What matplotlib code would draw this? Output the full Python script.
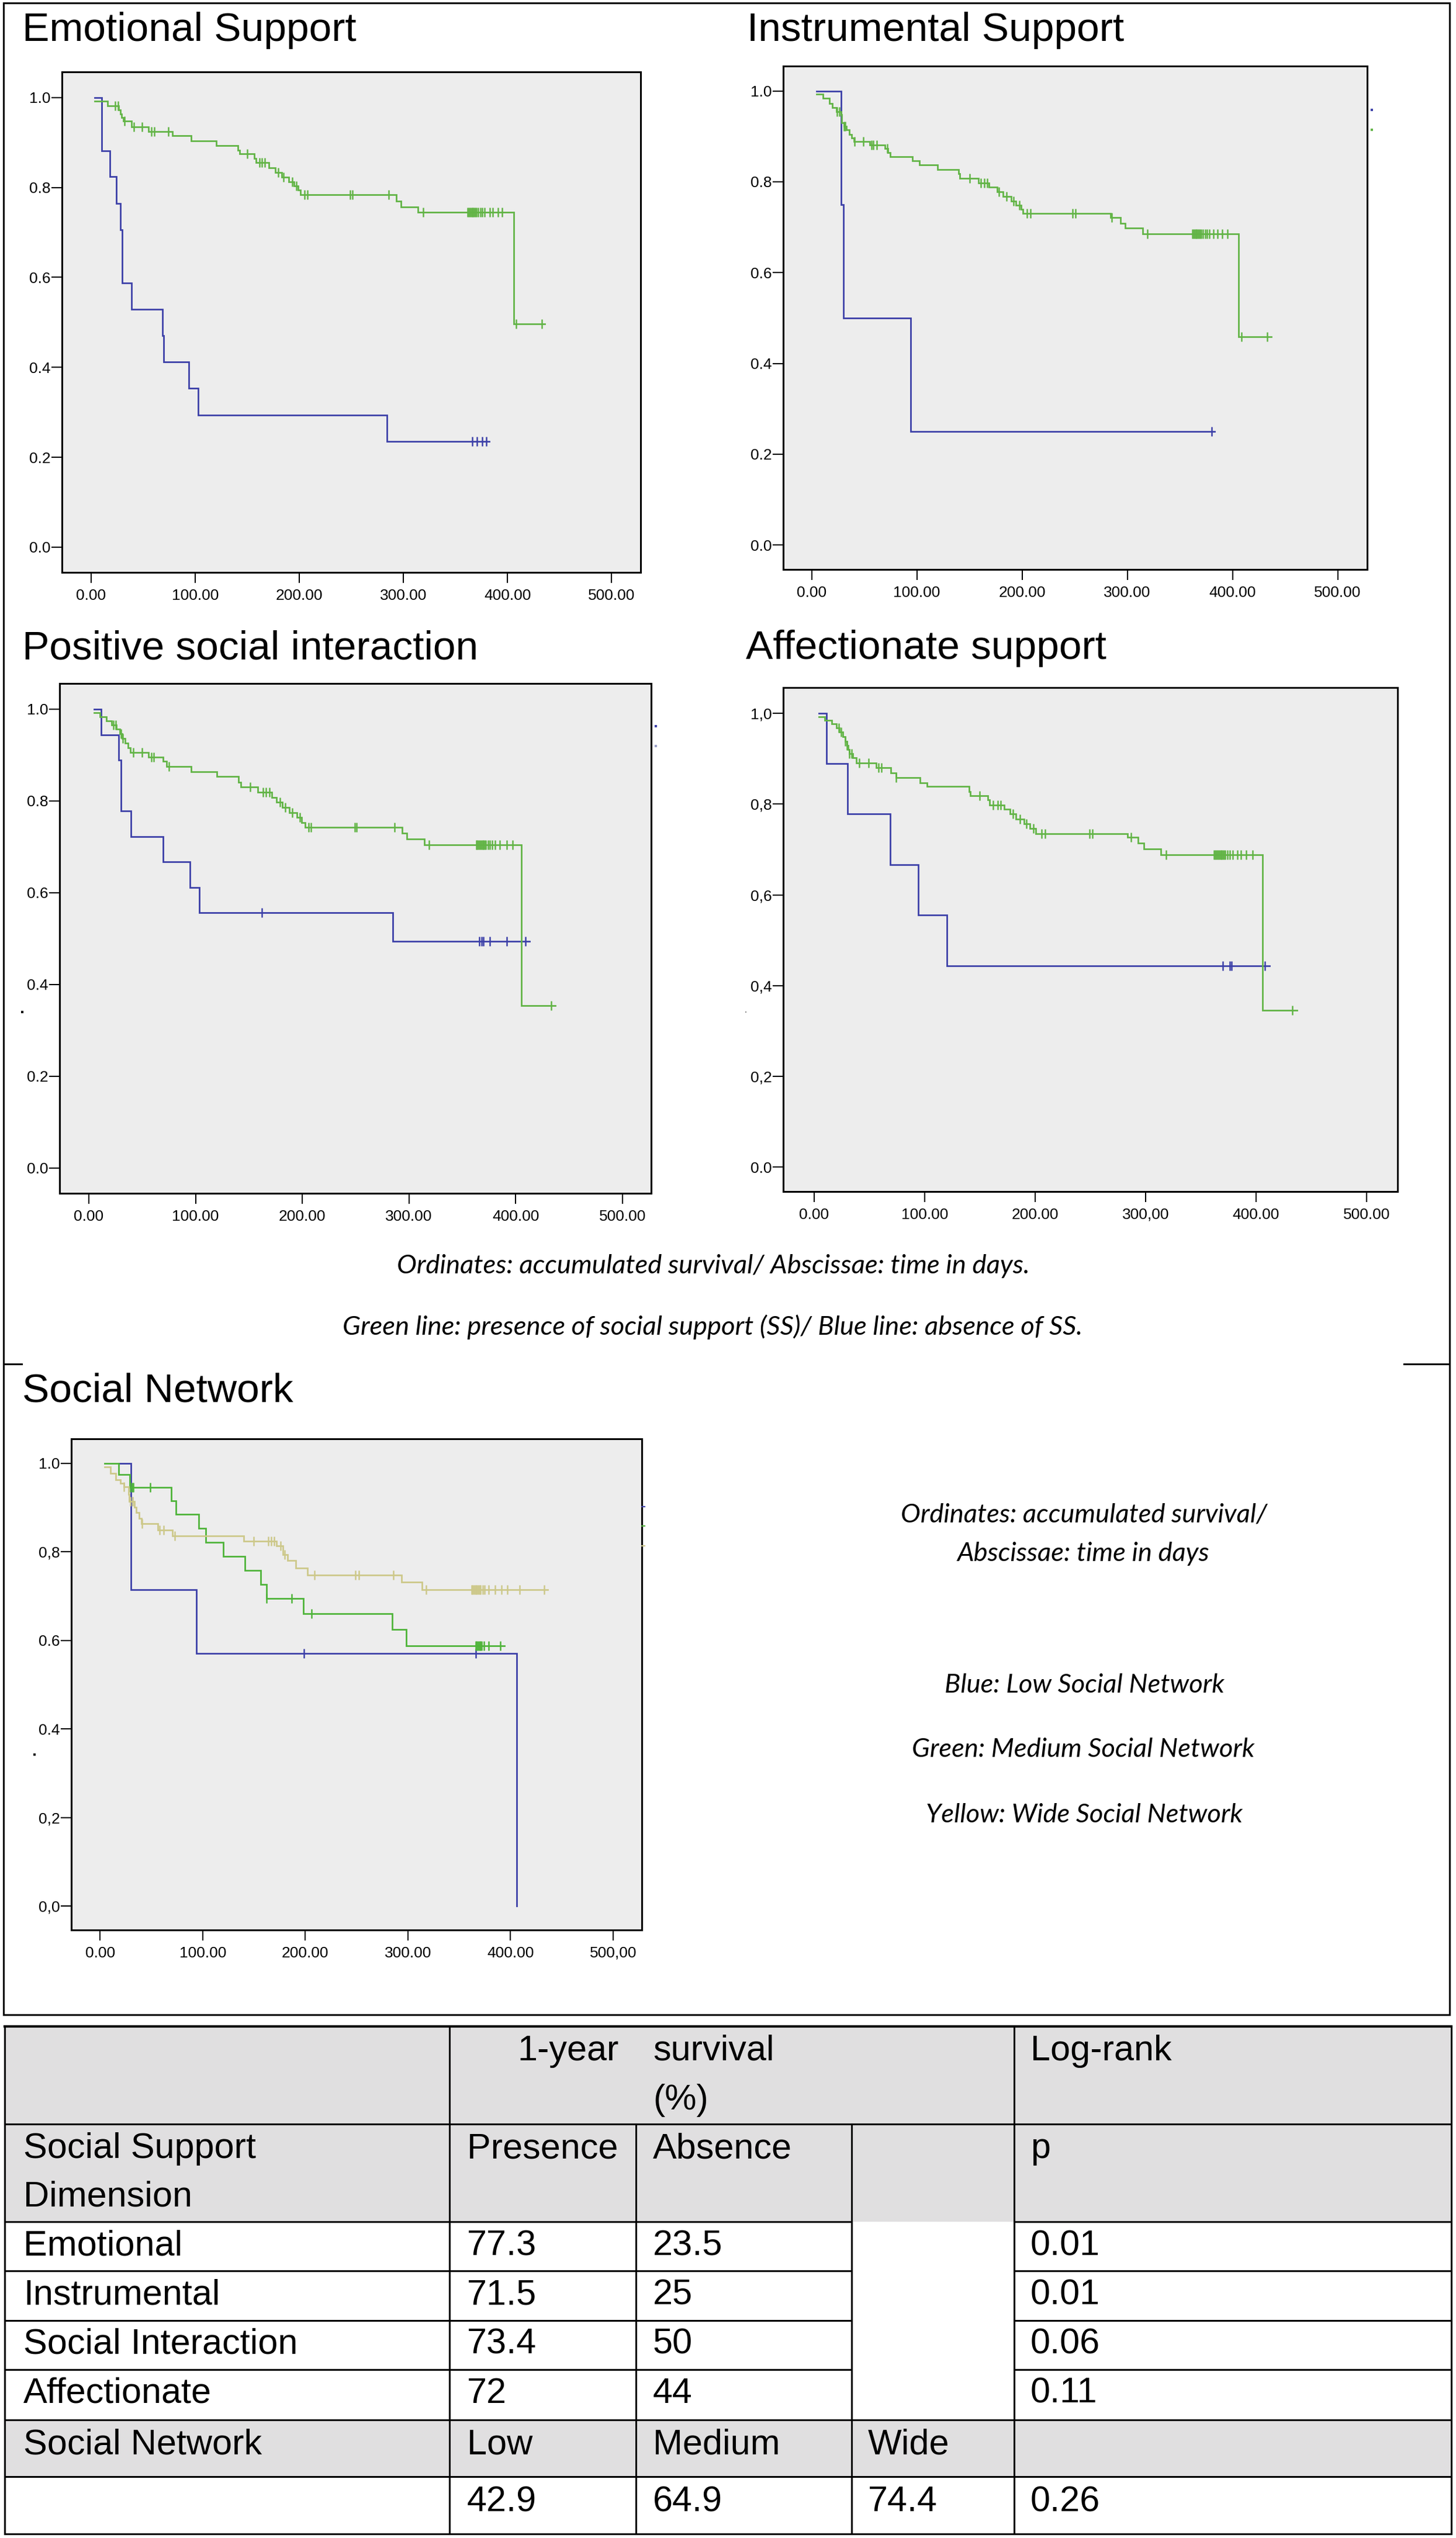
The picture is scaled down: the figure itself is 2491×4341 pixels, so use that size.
import numpy as np
import matplotlib
matplotlib.use('Agg')
import matplotlib.pyplot as plt
from matplotlib.lines import Line2D
from matplotlib.patches import Rectangle

W, H = 2491, 4341

# ------------------------------------------------------------------ data
BLUE = '#3c40a8'
GREEN = '#62b446'
GREEN_SN = '#4fb43a'
YELLOW = '#cdc88a'

# Emotional support
emo_abs_t = [3.6, 10, 18, 24, 28, 30, 39, 68.5, 69.5, 94, 103, 284.5]
emo_abs_s = [1.0, 0.882, 0.824, 0.765, 0.706, 0.588, 0.529, 0.471, 0.412, 0.353, 0.294, 0.235]
emo_abs_end = 382.5
emo_abs_c = [366, 371, 376, 380]

emo_pre_t = [3.6, 16, 26.5, 28, 29.5, 31, 39, 55, 78, 96, 120, 141, 142.5, 157, 158.5, 171, 177,
             183, 190, 195, 199, 201, 293, 297.5, 314, 406]
emo_pre_s = [0.992, 0.982, 0.973, 0.964, 0.956, 0.948, 0.935, 0.925, 0.915, 0.904, 0.893, 0.883,
             0.875, 0.865, 0.855, 0.844, 0.834, 0.823, 0.813, 0.803, 0.794, 0.784, 0.770, 0.757,
             0.745, 0.497]
emo_pre_end = 436
emo_pre_c = [23, 26, 32, 41, 49, 58, 61, 74, 150, 162, 164, 167, 180, 185, 193, 197, 205, 208,
             249, 251, 286, 319, 362, 363, 364, 365, 366, 367, 368, 369, 370, 372, 374, 376, 378,
             383, 386, 391, 395, 408.6, 433]

# Instrumental support
ins_abs_t = [4.9, 27.9, 30, 94.3]
ins_abs_s = [1.0, 0.75, 0.5, 0.25]
ins_abs_end = 383
ins_abs_c = [380]

ins_pre_t = [4.9, 11, 16.8, 19.9, 23.5, 27.9, 28.8, 30.6, 33.2, 35.9, 38.1, 40.3, 55.4, 69.5,
             72.2, 74.4, 95.7, 102.3, 119.6, 139.5, 140.8, 158.5, 168.7, 176.3, 182, 189.5, 194,
             199.3, 200.6, 283.9, 293.6, 298, 314.4, 405.7]
ins_pre_s = [0.993, 0.984, 0.973, 0.963, 0.955, 0.948, 0.930, 0.922, 0.914, 0.904, 0.896, 0.889,
             0.881, 0.873, 0.864, 0.855, 0.846, 0.837, 0.827, 0.818, 0.808, 0.798, 0.788, 0.778,
             0.768, 0.758, 0.749, 0.739, 0.730, 0.721, 0.708, 0.698, 0.685, 0.458]
ins_pre_end = 436.7
ins_pre_c = [24, 26.6, 30.6, 32, 41, 49, 57, 58.5, 62, 72, 150, 161, 164, 167, 178, 185, 192,
             197.5, 204.6, 208, 248, 250.7, 285, 319, 362, 363, 364, 365, 366, 367, 368, 369,
             370, 372, 374, 376, 378, 382, 386, 390, 395, 408.8, 433]

# Positive social interaction
psi_abs_t = [4.8, 11.4, 28, 30, 39.4, 69.6, 94.5, 103.7, 285]
psi_abs_s = [1.0, 0.944, 0.889, 0.778, 0.722, 0.667, 0.611, 0.556, 0.494]
psi_abs_end = 413
psi_abs_c = [162, 366, 368, 370, 376, 391.5, 409]

psi_pre_t = [4.8, 10.5, 16.2, 21.4, 25.8, 28.9, 31.1, 33.7, 36.7, 38.9, 55.6, 69.6, 72.6, 95.8,
             119.9, 140.4, 142.2, 158.4, 171.5, 175.9, 181.5, 187.7, 195.1, 199.4, 202.9, 293.5,
             297.9, 314.5, 405.5]
psi_pre_s = [0.992, 0.983, 0.974, 0.966, 0.957, 0.947, 0.936, 0.926, 0.916, 0.906, 0.896, 0.886,
             0.875, 0.864, 0.853, 0.841, 0.830, 0.819, 0.808, 0.797, 0.786, 0.775, 0.764, 0.753,
             0.742, 0.730, 0.717, 0.704, 0.354]
psi_pre_end = 437
psi_pre_c = [23, 25, 30, 32, 41.5, 50, 58.6, 61, 75, 151, 163, 166, 169, 179, 184, 190.7, 198,
             206, 208, 249, 251, 286.5, 319, 363, 364, 365, 366, 367, 368, 369, 370, 371, 372,
             374, 376, 378, 381, 385, 391.5, 397, 433.5]

# Affectionate support
aff_abs_t = [4.2, 11, 30.4, 69, 94, 120]
aff_abs_s = [1.0, 0.889, 0.778, 0.667, 0.556, 0.444]
aff_abs_end = 412
aff_abs_c = [370, 376, 378, 408]

aff_pre_t = [4.2, 9.7, 16, 20, 23, 26, 28, 29.5, 30.5, 32, 35, 38, 56, 69.5, 74, 96, 102.4, 140,
             141.5, 157, 159, 172, 177, 182.6, 190, 195, 200.7, 283.7, 293, 298.5, 314, 406]
aff_pre_s = [0.992, 0.985, 0.977, 0.968, 0.959, 0.949, 0.938, 0.929, 0.921, 0.912, 0.902, 0.891,
             0.880, 0.869, 0.859, 0.847, 0.839, 0.828, 0.819, 0.809, 0.798, 0.789, 0.778, 0.767,
             0.757, 0.746, 0.735, 0.727, 0.714, 0.701, 0.688, 0.345]
aff_pre_end = 437
aff_pre_c = [22, 24.5, 28, 29.5, 32, 34, 41, 49, 58, 61, 74, 150, 162, 166, 169, 180, 186, 192,
             198.6, 206, 209, 249, 252, 286.7, 318.7, 362, 363, 364, 365, 366, 367, 368, 369,
             370, 371, 372, 374, 376, 379, 383, 386, 391, 397, 433]

# Social network
sn_low_t = [18.4, 30, 94, 406]
sn_low_s = [1.0, 0.714, 0.571, 0.0]
sn_low_end = 406
sn_low_c = [199, 366]

sn_med_t = [4.2, 18, 28.8, 69.3, 73.9, 96, 103.2, 119.9, 141.2, 156.6, 162, 198.4, 284.9, 298.2]
sn_med_s = [1.0, 0.975, 0.946, 0.915, 0.885, 0.853, 0.821, 0.789, 0.758, 0.726, 0.695, 0.660,
            0.625, 0.587]
sn_med_end = 394
sn_med_c = [29.5, 31, 32.5, 49, 162, 187, 206, 366, 367, 368, 369, 370, 371, 372, 374, 379, 390]

sn_wide_t = [4.2, 10.4, 15.4, 19.6, 23.2, 27.9, 28.5, 33.6, 35.5, 38.3, 40.2, 56.4, 70.6, 140,
             172, 178, 182.5, 191, 202, 293.6, 314]
sn_wide_s = [0.991, 0.977, 0.963, 0.955, 0.947, 0.930, 0.914, 0.901, 0.889, 0.876, 0.863, 0.849,
             0.836, 0.824, 0.814, 0.794, 0.780, 0.763, 0.747, 0.731, 0.714]
sn_wide_end = 436.5
sn_wide_c = [23.4, 29.8, 31.7, 40.8, 58, 62, 72.9, 150, 164, 167, 169.5, 176, 180, 209, 249,
             252, 286, 318, 362, 363, 364, 365, 366, 367, 368, 369, 370, 371, 373, 375, 379,
             385, 391, 397, 409, 433]

# tick labels
yt_vals = [0.0, 0.2, 0.4, 0.6, 0.8, 1.0]
xt_vals = [0, 100, 200, 300, 400, 500]
yt_dot = ['0.0', '0.2', '0.4', '0.6', '0.8', '1.0']
yt_aff = ['0.0', '0,2', '0,4', '0,6', '0,8', '1,0']
yt_sn = ['0,0', '0,2', '0.4', '0.6', '0,8', '1.0']
xt_dot = ['0.00', '100.00', '200.00', '300.00', '400.00', '500.00']
xt_aff = ['0.00', '100.00', '200.00', '300,00', '400.00', '500.00']
xt_sn = ['0.00', '100.00', '200.00', '300.00', '400.00', '500,00']

titles = ['Emotional Support', 'Instrumental Support', 'Positive social interaction',
          'Affectionate support', 'Social Network']

caption_mid = ['Ordinates: accumulated survival/ Abscissae: time in days.',
               'Green line: presence of social support (SS)/ Blue line: absence of SS.']
caption_sn = ['Ordinates: accumulated survival/', 'Abscissae: time in days',
              'Blue: Low Social Network', 'Green: Medium Social Network',
              'Yellow: Wide Social Network']

# table
tbl_dims = ['Emotional', 'Instrumental', 'Social Interaction', 'Affectionate']
tbl_presence = ['77.3', '71.5', '73.4', '72']
tbl_absence = ['23.5', '25', '50', '44']
tbl_p = ['0.01', '0.01', '0.06', '0.11']
tbl_net_levels = ['Low', 'Medium', 'Wide']
tbl_net_surv = ['42.9', '64.9', '74.4']
tbl_net_p = '0.26'

# ------------------------------------------------------------------ figure
plt.rcParams['font.family'] = ['Liberation Sans', 'DejaVu Sans']
fig = plt.figure(figsize=(W / 100, H / 100), dpi=100)
fig.patch.set_facecolor('white')


def fx(x):
    return x / W


def fy(y):
    return 1 - y / H


def hline(y, x0, x1, lw=2.2, color='black'):
    fig.add_artist(Line2D([fx(x0), fx(x1)], [fy(y), fy(y)], color=color, lw=lw,
                          transform=fig.transFigure, solid_capstyle='projecting'))


def vline(x, y0, y1, lw=2.2):
    fig.add_artist(Line2D([fx(x), fx(x)], [fy(y0), fy(y1)], color='black', lw=lw,
                          transform=fig.transFigure, solid_capstyle='projecting'))


def dot(x, y, color, ms=2.5):
    fig.add_artist(Line2D([fx(x)], [fy(y)], ls='none', marker='s', ms=ms, mew=0,
                          color=color, transform=fig.transFigure))


def km(ax, t, s, end, cens, color, z):
    tt = list(t) + [end]
    ss = list(s) + [s[-1]]
    ax.step(tt, ss, where='post', color=color, lw=2.0, zorder=z, solid_joinstyle='miter')
    t_arr = np.asarray(t)
    s_arr = np.asarray(s)
    idx = np.clip(np.searchsorted(t_arr, cens, side='right') - 1, 0, None)
    ax.plot(cens, s_arr[idx], ls='none', marker='|', ms=12, mew=1.8, color=color, zorder=z)


def make_axes(box, xlim, ylim, ylabels, xlabels):
    l, t, r, b = box
    ax = fig.add_axes([fx(l), fy(b), (r - l) / W, (b - t) / H])
    ax.set_facecolor('#ededed')
    for sp in ax.spines.values():
        sp.set_linewidth(2.2)
        sp.set_color('black')
    ax.set_xlim(*xlim)
    ax.set_ylim(*ylim)
    ax.set_yticks(yt_vals)
    ax.set_yticklabels(ylabels)
    ax.set_xticks(xt_vals)
    ax.set_xticklabels(xlabels)
    ax.tick_params(axis='both', direction='out', length=13, width=1.5, labelsize=19,
                   colors='black')
    ax.tick_params(axis='y', pad=1)
    ax.tick_params(axis='x', pad=7)
    return ax


panels = [
    dict(box=(106, 123, 1096, 979), xlim=(-28, 528), ylim=(-0.056, 1.057), yl=yt_dot, xl=xt_dot,
         curves=[(emo_abs_t, emo_abs_s, emo_abs_end, emo_abs_c, BLUE),
                 (emo_pre_t, emo_pre_s, emo_pre_end, emo_pre_c, GREEN)],
         title=titles[0], tpos=(38, 70)),
    dict(box=(1340, 113, 2339, 974), xlim=(-27, 528), ylim=(-0.054, 1.055), yl=yt_dot, xl=xt_dot,
         curves=[(ins_abs_t, ins_abs_s, ins_abs_end, ins_abs_c, BLUE),
                 (ins_pre_t, ins_pre_s, ins_pre_end, ins_pre_c, GREEN)],
         title=titles[1], tpos=(1278, 70)),
    dict(box=(102, 1169, 1114, 2041), xlim=(-27.4, 527), ylim=(-0.055, 1.056), yl=yt_dot,
         xl=xt_dot,
         curves=[(psi_abs_t, psi_abs_s, psi_abs_end, psi_abs_c, BLUE),
                 (psi_pre_t, psi_pre_s, psi_pre_end, psi_pre_c, GREEN)],
         title=titles[2], tpos=(38, 1127)),
    dict(box=(1340, 1176, 2391, 2038), xlim=(-28, 528), ylim=(-0.054, 1.057), yl=yt_aff,
         xl=xt_aff,
         curves=[(aff_abs_t, aff_abs_s, aff_abs_end, aff_abs_c, BLUE),
                 (aff_pre_t, aff_pre_s, aff_pre_end, aff_pre_c, GREEN)],
         title=titles[3], tpos=(1276, 1127)),
    dict(box=(122, 2461, 1098, 3301), xlim=(-28, 528), ylim=(-0.054, 1.055), yl=yt_sn, xl=xt_sn,
         curves=[(sn_low_t, sn_low_s, sn_low_end, sn_low_c, BLUE),
                 (sn_med_t, sn_med_s, sn_med_end, sn_med_c, GREEN_SN),
                 (sn_wide_t, sn_wide_s, sn_wide_end, sn_wide_c, YELLOW)],
         title=titles[4], tpos=(38, 2398)),
]

for p in panels:
    ax = make_axes(p['box'], p['xlim'], p['ylim'], p['yl'], p['xl'])
    for z, (t, s, e, c, col) in enumerate(p['curves']):
        km(ax, t, s, e, c, col, 3 + z)
    fig.text(fx(p['tpos'][0]), fy(p['tpos'][1]), p['title'], fontsize=50, ha='left',
             va='baseline', color='black')

renderer = fig.canvas.get_renderer()


def fitted_group(lines, positions, target_width, base=30):
    txts = []
    for s, (cx, by) in zip(lines, positions):
        txts.append(fig.text(fx(cx), fy(by), s, fontsize=base, ha='center', va='baseline',
                             family=['Lato', 'DejaVu Sans'], style='italic', color='black'))
    bb = txts[0].get_window_extent(renderer)
    scale = target_width / bb.width
    for t in txts:
        t.set_fontsize(base * scale)
    return txts


fitted_group(caption_mid, [(1220, 2178), (1219, 2283)], 1080)
fitted_group(caption_sn, [(1855, 2603), (1853, 2670), (1855, 2895), (1853, 3005), (1855, 3117)],
             626)

# small leftover marks of the original legends
dot(2347, 188, BLUE)
dot(2347, 222, GREEN)
dot(1122, 1242, BLUE)
dot(1122, 1276, '#9aa0c8')
dot(38, 1731, 'black', 3)
dot(1276, 1731, '#888888', 2)
dot(59, 3001, 'black', 3)
hline(2577, 1098, 1103, lw=1.5, color=BLUE)
hline(2610, 1098, 1103, lw=1.5, color=GREEN_SN)
hline(2644, 1098, 1103, lw=1.5, color=YELLOW)

# outer frame of the figure area
FL, FR, FT, FB = 6, 2480, 5, 3446
hline(FT, FL, FR)
hline(FB, FL, FR)
vline(FL, FT, FB)
vline(FR, FT, FB)
hline(2333, FL, 37)
hline(2333, 2402, FR)

# ------------------------------------------------------------------ table
rows = [3466, 3633, 3800, 3884, 3969, 4053, 4139, 4236, 4334]
cols = [8, 769, 1088, 1457, 1735, 2483]
tx = [40, 799, 1117, 1485, 1763]
GRAY = '#e0dfe0'


def rect(x0, y0, x1, y1, color):
    fig.add_artist(Rectangle((fx(x0), fy(y1)), (x1 - x0) / W, (y1 - y0) / H,
                             transform=fig.transFigure, facecolor=color, edgecolor='none',
                             zorder=0))


rect(cols[0], rows[0], cols[-1], rows[2], GRAY)
rect(cols[0], rows[6], cols[-1], rows[7], GRAY)

hline(rows[0], cols[0], cols[-1], lw=3.0)
hline(rows[1], cols[0], cols[-1])
for r in rows[2:6]:
    hline(r, cols[0], cols[3])
    hline(r, cols[4], cols[-1])
for r in rows[6:]:
    hline(r, cols[0], cols[-1])
vline(cols[0], rows[0], rows[-1])
vline(cols[1], rows[0], rows[-1])
vline(cols[2], rows[1], rows[-1])
vline(cols[3], rows[1], rows[-1])
vline(cols[4], rows[0], rows[-1])
vline(cols[5], rows[0], rows[-1])

TFS = 44
LS = 84


def ttext(x, y, s):
    fig.text(fx(x), fy(y), s, fontsize=TFS, ha='left', va='baseline', color='black')


BOFF = 58
ttext(885, rows[0] + BOFF, '1-year')
ttext(tx[2], rows[0] + BOFF, 'survival')
ttext(tx[2], rows[0] + BOFF + LS, '(%)')
ttext(tx[4], rows[0] + BOFF, 'Log-rank')
ttext(tx[0], rows[1] + BOFF, 'Social Support')
ttext(tx[0], rows[1] + BOFF + LS - 2, 'Dimension')
ttext(tx[1], rows[1] + BOFF, 'Presence')
ttext(tx[2], rows[1] + BOFF, 'Absence')
ttext(tx[4], rows[1] + BOFF, 'p')
for i in range(4):
    y = rows[2 + i] + 57
    ttext(tx[0], y, tbl_dims[i])
    ttext(tx[1], y, tbl_presence[i])
    ttext(tx[2], y, tbl_absence[i])
    ttext(tx[4], y, tbl_p[i])
ttext(tx[0], rows[6] + 58, 'Social Network')
for j in range(3):
    ttext(tx[1 + j], rows[6] + 58, tbl_net_levels[j])
    ttext(tx[1 + j], rows[7] + 59, tbl_net_surv[j])
ttext(tx[4], rows[7] + 59, tbl_net_p)

fig.savefig('out.png', dpi=100, facecolor='white')
